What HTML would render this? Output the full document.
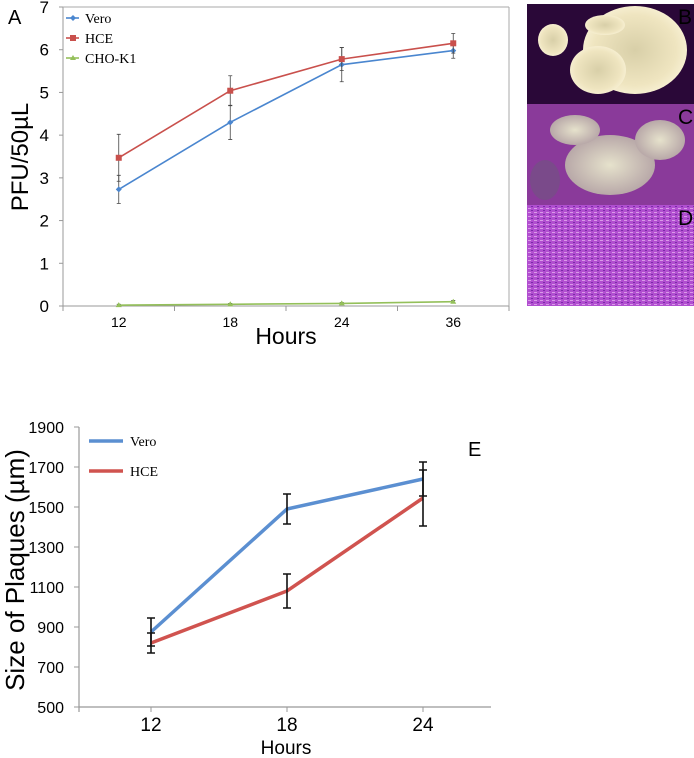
<!DOCTYPE html>
<html><head><meta charset="utf-8"><style>
body{margin:0;background:#fff;}
svg{display:block;font-family:"Liberation Sans",sans-serif;}
.serif{font-family:"Liberation Serif",serif;}
</style></head><body>
<svg id="fig" width="694" height="758" viewBox="0 0 694 758">
<defs>
<radialGradient id="blob" cx="50%" cy="50%" r="50%"><stop offset="0" stop-color="#d8cfa8"/><stop offset="0.8" stop-color="#efe5c0"/><stop offset="1" stop-color="#f6eed0"/></radialGradient>
<radialGradient id="blob2" cx="50%" cy="50%" r="50%"><stop offset="0" stop-color="#e6e2cc"/><stop offset="1" stop-color="#b8a8a8"/></radialGradient>
<pattern id="dots" width="6" height="4" patternUnits="userSpaceOnUse"><rect width="6" height="4" fill="#b14fd0"/><rect x="0" y="0" width="3" height="1" fill="#d99ae8"/><rect x="3" y="2" width="2" height="1" fill="#7a2aa8"/></pattern>
</defs>
<g>
<rect x="527" y="4" width="167" height="100" fill="#2a0838"/>
<ellipse cx="635" cy="50" rx="52" ry="44" fill="url(#blob)"/>
<ellipse cx="598" cy="70" rx="28" ry="24" fill="url(#blob)"/>
<ellipse cx="553" cy="40" rx="15" ry="16" fill="url(#blob)"/>
<ellipse cx="605" cy="25" rx="20" ry="10" fill="url(#blob)"/>
<text x="678" y="24" font-size="21" fill="#000">B</text>
</g>
<g>
<rect x="527" y="104" width="167" height="101" fill="#8a3a9a"/>
<ellipse cx="610" cy="165" rx="45" ry="30" fill="url(#blob2)"/>
<ellipse cx="575" cy="130" rx="25" ry="15" fill="url(#blob2)"/>
<ellipse cx="660" cy="140" rx="25" ry="20" fill="url(#blob2)"/>
<ellipse cx="545" cy="180" rx="15" ry="20" fill="#7a4a8a"/>
<text x="678" y="124" font-size="21" fill="#000">C</text>
</g>
<g>
<rect x="527" y="205" width="167" height="101" fill="url(#dots)"/>
<text x="678" y="225" font-size="21" fill="#000">D</text>
</g>
<text x="8" y="24" font-size="20">A</text>
<text x="468" y="456" font-size="20">E</text>
<g id="chartA"></g>
<g id="chartE"></g>
</svg>
<script>
const NS="http://www.w3.org/2000/svg";
const catsA=["12","18","24","36"];
const yTicksA=[0,1,2,3,4,5,6,7];
const veroA=[2.73,4.3,5.65,5.98];
const veroErrA=[0.33,0.4,0.4,0.18];
const hceA=[3.47,5.04,5.78,6.15];
const hceErrA=[0.55,0.35,0.27,0.23];
const choA=[0.02,0.04,0.06,0.1];
const choErrA=[0.02,0.02,0.02,0.03];
const catsE=["12","18","24"];
const yTicksE=[500,700,900,1100,1300,1500,1700,1900];
const veroE=[875,1490,1640];
const veroErrE=[70,75,85];
const hceE=[820,1080,1545];
const hceErrE=[50,85,140];

function mk(parent,tag,attrs,text){const e=document.createElementNS(NS,tag);for(const k in attrs)e.setAttribute(k,attrs[k]);if(text!==undefined)e.textContent=text;parent.appendChild(e);return e;}

// Chart A
(function(){
const g=document.getElementById('chartA');
const x0=63,x1=509,yTop=7,yBot=306;
const bw=(x1-x0)/catsA.length;
const xs=i=>x0+bw*(i+0.5);
const ys=v=>yBot-(v/7)*(yBot-yTop);
let l=mk(g,'line',{x1:x0,y1:yTop,x2:x0,y2:yBot,stroke:'#999','stroke-width':1});


l=mk(g,'line',{x1:x0,y1:yBot,x2:x1,y2:yBot,stroke:'#999','stroke-width':1});


mk(g,'line',{x1:x0,y1:yTop,x2:x1,y2:yTop,stroke:'#aaa','stroke-width':1});
mk(g,'line',{x1:x1,y1:yTop,x2:x1,y2:yBot,stroke:'#aaa','stroke-width':1});
yTicksA.forEach(v=>{
 mk(g,'line',{x1:x0-4,y1:ys(v),x2:x0,y2:ys(v),stroke:'#999'});
 const t=mk(g,'text',{x:x0-14,y:ys(v)+6,'font-size':17,'text-anchor':'end'},v);
 
 
});
for(let i=0;i<=catsA.length;i++)mk(g,'line',{x1:x0+bw*i,y1:yBot,x2:x0+bw*i,y2:yBot+5,stroke:'#999'});
catsA.forEach((c,i)=>{
 const t=mk(g,'text',{x:xs(i),y:yBot+21,'font-size':14,'text-anchor':'middle'},c);
 
 
});
let t=mk(g,'text',{x:286,y:344,'font-size':23,'text-anchor':'middle'},'Hours');


t=mk(g,'text',{x:28,y:157,'font-size':24,'text-anchor':'middle',transform:'rotate(-90 28 157)'},'PFU/50µL');


const series=[[veroA,veroErrA,'#4a86cf','diamond','vero'],[hceA,hceErrA,'#c9504c','square','hce'],[choA,choErrA,'#94c05a','tri','cho-k1']];
series.forEach(([vals,errs,col,m,name])=>{
 vals.forEach((v,i)=>{
  const e=mk(g,'path',{d:`M${xs(i)},${ys(v-errs[i])}V${ys(v+errs[i])}M${xs(i)-2},${ys(v-errs[i])}h4M${xs(i)-2},${ys(v+errs[i])}h4`,stroke:'#444','stroke-width':0.8,fill:'none'});
  
  
 });
 const p=mk(g,'polyline',{points:vals.map((v,i)=>xs(i)+','+ys(v)).join(' '),fill:'none',stroke:col,'stroke-width':1.6});
 
 
 vals.forEach((v,i)=>{
  let mm;
  if(m==='square')mm=mk(g,'rect',{x:xs(i)-3,y:ys(v)-3,width:6,height:6,fill:col});
  else if(m==='diamond')mm=mk(g,'path',{d:`M${xs(i)},${ys(v)-3}l3,3l-3,3l-3,-3z`,fill:col});
  else mm=mk(g,'path',{d:`M${xs(i)},${ys(v)-3}l3,5h-6z`,fill:col});
  
  
 });
});
const leg=[['Vero','#4a86cf','diamond'],['HCE','#c9504c','square'],['CHO-K1','#94c05a','tri']];
leg.forEach(([n,c,m],i)=>{
 const y=18+i*20;
 const lg=mk(g,'g',{});
 
 
 mk(lg,'line',{x1:66,y1:y,x2:79,y2:y,stroke:c,'stroke-width':1.6});
 if(m==='square')mk(lg,'rect',{x:70,y:y-3,width:6,height:6,fill:c});
 else if(m==='diamond')mk(lg,'path',{d:`M73,${y-3}l3,3l-3,3l-3,-3z`,fill:c});
 else mk(lg,'path',{d:`M73,${y-3}l3,5h-6z`,fill:c});
 mk(lg,'text',{x:85,y:y+5,'font-size':14,class:'serif'},n);
});
})();

// Chart E
(function(){
const g=document.getElementById('chartE');
const x0=79,x1=491,yTop=427,yBot=707;
const xs=i=>151+136*i;
const ys=v=>yBot-((v-500)/1400)*(yBot-yTop);
let l=mk(g,'line',{x1:x0,y1:yTop,x2:x0,y2:yBot+5,stroke:'#999','stroke-width':1.2});


l=mk(g,'line',{x1:x0,y1:yBot,x2:x1,y2:yBot,stroke:'#999','stroke-width':1.2});


yTicksE.forEach(v=>{
 mk(g,'line',{x1:x0-5,y1:ys(v),x2:x0,y2:ys(v),stroke:'#999'});
 const t=mk(g,'text',{x:x0-15,y:ys(v)+6,'font-size':16,'text-anchor':'end'},v);
 
 
});
catsE.forEach((c,i)=>{
 mk(g,'line',{x1:xs(i),y1:yBot,x2:xs(i),y2:yBot+5,stroke:'#999'});
 const t=mk(g,'text',{x:xs(i),y:731,'font-size':19,'text-anchor':'middle'},c);
 
 
});
let t=mk(g,'text',{x:286,y:754,'font-size':19,'text-anchor':'middle'},'Hours');


t=mk(g,'text',{x:24,y:570,'font-size':26,'text-anchor':'middle',transform:'rotate(-90 24 570)'},'Size of Plaques (µm)');


[[veroE,veroErrE,'#5b8fd1','vero'],[hceE,hceErrE,'#d0534f','hce']].forEach(([vals,errs,col,name])=>{
 const p=mk(g,'polyline',{points:vals.map((v,i)=>xs(i)+','+ys(v)).join(' '),fill:'none',stroke:col,'stroke-width':3.5});
 
 
 vals.forEach((v,i)=>{
  const e=mk(g,'path',{d:`M${xs(i)},${ys(v-errs[i])}V${ys(v+errs[i])}M${xs(i)-4},${ys(v-errs[i])}h8M${xs(i)-4},${ys(v+errs[i])}h8`,stroke:'#111','stroke-width':1.6,fill:'none'});
  
  
 });
});
[['Vero','#5b8fd1',441],['HCE','#d0534f',471]].forEach(([n,c,y])=>{
 const lg=mk(g,'g',{});
 
 
 mk(lg,'line',{x1:89,y1:y,x2:123,y2:y,stroke:c,'stroke-width':3.5});
 mk(lg,'text',{x:130,y:y+5,'font-size':14,class:'serif'},n);
});
})();
</script>
</body></html>
